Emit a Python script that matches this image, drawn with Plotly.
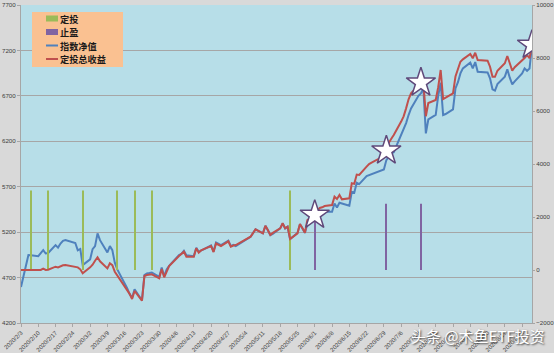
import plotly.graph_objects as go

dates = [
    "2020-02-03","2020-02-04","2020-02-05","2020-02-06","2020-02-07",
    "2020-02-10","2020-02-11","2020-02-12","2020-02-13","2020-02-14",
    "2020-02-17","2020-02-18","2020-02-19","2020-02-20","2020-02-21",
    "2020-02-24","2020-02-25","2020-02-26","2020-02-27","2020-02-28",
    "2020-03-02","2020-03-03","2020-03-04","2020-03-05","2020-03-06",
    "2020-03-09","2020-03-10","2020-03-11","2020-03-12","2020-03-13",
    "2020-03-16","2020-03-17","2020-03-18","2020-03-19","2020-03-20",
    "2020-03-23","2020-03-24","2020-03-25","2020-03-26","2020-03-27",
    "2020-03-30","2020-03-31","2020-04-01","2020-04-02","2020-04-03",
    "2020-04-07","2020-04-08","2020-04-09","2020-04-10",
    "2020-04-13","2020-04-14","2020-04-15","2020-04-16","2020-04-17",
    "2020-04-20","2020-04-21","2020-04-22","2020-04-23","2020-04-24",
    "2020-04-27","2020-04-28","2020-04-29","2020-04-30",
    "2020-05-06","2020-05-07","2020-05-08",
    "2020-05-11","2020-05-12","2020-05-13","2020-05-14","2020-05-15",
    "2020-05-18","2020-05-19","2020-05-20","2020-05-21","2020-05-22",
    "2020-05-25","2020-05-26","2020-05-27","2020-05-28","2020-05-29",
    "2020-06-01","2020-06-02","2020-06-03","2020-06-04","2020-06-05",
    "2020-06-08","2020-06-09","2020-06-10","2020-06-11","2020-06-12",
    "2020-06-15","2020-06-16","2020-06-17","2020-06-18","2020-06-19",
    "2020-06-22","2020-06-23","2020-06-24","2020-06-29","2020-06-30",
    "2020-07-01","2020-07-02","2020-07-03",
    "2020-07-06","2020-07-07","2020-07-08","2020-07-09","2020-07-10",
    "2020-07-13","2020-07-14","2020-07-15","2020-07-16","2020-07-17",
    "2020-07-20","2020-07-21","2020-07-22","2020-07-23","2020-07-24",
    "2020-07-27","2020-07-28","2020-07-29","2020-07-30","2020-07-31",
    "2020-08-03","2020-08-04","2020-08-05","2020-08-06","2020-08-07",
    "2020-08-10","2020-08-11","2020-08-12","2020-08-13","2020-08-14",
    "2020-08-17","2020-08-18","2020-08-19","2020-08-20","2020-08-21",
    "2020-08-24","2020-08-25","2020-08-26","2020-08-27","2020-08-28",
]

index_nav = [
    4596, 4720, 4850, 4947, 4945,
    4936, 4970, 5002, 4965, 4970,
    5057, 5030, 5075, 5105, 5112,
    5082, 5080, 5000, 5015, 4837,
    4900, 5013, 5046, 5186, 5112,
    4976, 5046, 5002, 4862, 4790,
    4639, 4583, 4518, 4477, 4572,
    4450, 4727, 4745, 4750, 4756,
    4708, 4811, 4715, 4789, 4830,
    4947, 4960, 4994, 4947,
    4936, 5027, 4983, 5000, 5010,
    5053, 4987, 5087, 5070, 5057,
    5105, 5046, 5060, 5046,
    5148, 5190, 5230,
    5186, 5270, 5220, 5167, 5180,
    5241, 5296, 5241, 5259, 5123,
    5190, 5288, 5240, 5192, 5290,
    5351, 5380, 5410, 5424, 5424,
    5424, 5516, 5472, 5523, 5516,
    5490, 5644, 5635, 5743, 5729,
    5817, 5828, 5840, 5890, 5993,
    6030, 6067, 6080,
    6270, 6330, 6400, 6489, 6562,
    6700, 6727, 6782, 6287, 6440,
    6490, 6700, 6844, 6489, 6500,
    6552, 6782, 6850, 6947, 7003,
    7065, 7003, 7072, 6966, 6966,
    6958, 6893, 6772, 6757, 6830,
    6911, 6992, 6900, 6827, 6860,
    6947, 7003, 6976, 7000, 7260,
]

total_profit = [
    0, 0, 0, 0, 0,
    0, 0, 50, 0, 10,
    125, 100, 150, 180, 190,
    130, 125, 100, 25, -125,
    100, 200, 350, 480, 330,
    60, 250, 180, -64, -200,
    -600, -750, -900, -1094, -790,
    -1158, -226, -190, -170, -162,
    -313, 38, -275, -26, 150,
    528, 620, 690, 500,
    500, 818, 653, 740, 790,
    906, 679, 1000, 950, 906,
    1083, 880, 925, 943,
    1255, 1400, 1535,
    1384, 1670, 1510, 1321, 1400,
    1573, 1762, 1573, 1635, 1170,
    1384, 1736, 1585, 1408, 1887,
    2075, 2226, 2340, 2366, 2415,
    2453, 2767, 2680, 2830, 2667,
    2705, 3272, 3250, 3600, 3585,
    3900, 4000, 4050, 4300, 4500,
    4800, 4950, 5094,
    5600, 5800, 6100, 6442, 6668,
    6950, 7068, 7100, 5800, 6300,
    6415, 6900, 7547, 6453, 6500,
    6668, 7300, 7600, 7860, 7950,
    8150, 7990, 8200, 7925, 7920,
    7898, 7672, 7295, 7290, 7520,
    7800, 8075, 7800, 7520, 7650,
    7898, 8000, 8113, 7990, 8490,
]

invest_dates = ["2020-02-07", "2020-02-14", "2020-02-28", "2020-03-13",
                "2020-03-20", "2020-03-27", "2020-05-22"]
invest_values = [3000, 3000, 3000, 3000, 3000, 3000, 3000]

stop_dates = ["2020-06-01", "2020-06-30", "2020-07-14"]
stop_values = [2500, 2500, 2500]

star_dates = ["2020-06-01", "2020-06-30", "2020-07-14", "2020-08-28"]
star_values = [total_profit[dates.index(d)] for d in star_dates]

legend_names = ["定投", "止盈", "指数净值", "定投总收益"]
legend_colors = ["#9BBB59", "#8064A2", "#4F81BD", "#C0504D"]
legend_kinds = ["box", "box", "line", "line"]

WEEK_MS = 7 * 24 * 3600 * 1000
BAR_W = 0.42 * 24 * 3600 * 1000

W, H = 554, 353
ML, MR, MT, MB = 21, 22, 5, 30
PW, PH = W - ML - MR, H - MT - MB


def px(xp):
    return (xp - ML) / PW


def py(yp):
    return 1 - (yp - MT) / PH


fig = go.Figure()
fig.add_trace(go.Bar(x=invest_dates, y=invest_values, name=legend_names[0], yaxis="y2",
                     width=BAR_W, marker=dict(color=legend_colors[0], line=dict(width=0))))
fig.add_trace(go.Bar(x=stop_dates, y=stop_values, name=legend_names[1], yaxis="y2",
                     width=BAR_W, marker=dict(color=legend_colors[1], line=dict(width=0))))
fig.add_trace(go.Scatter(x=dates, y=index_nav, name=legend_names[2], mode="lines",
                         line=dict(color=legend_colors[2], width=2)))
fig.add_trace(go.Scatter(x=dates, y=total_profit, name=legend_names[3], mode="lines", yaxis="y2",
                         line=dict(color=legend_colors[3], width=2)))
fig.add_trace(go.Scatter(x=star_dates, y=star_values, mode="markers", yaxis="y2",
                         showlegend=False,
                         marker=dict(symbol="star", size=22, color="white",
                                     line=dict(color="#5F497A", width=1.5))))

# legend drawn as a box with shapes and text annotations
shapes = [dict(type="rect", xref="paper", yref="paper",
               x0=px(32), x1=px(123), y0=py(67), y1=py(12),
               fillcolor="#FAC191", line=dict(width=0), layer="above")]
annotations = []
item_y = [18.5, 32, 45.5, 59]
for name, color, kind, yy in zip(legend_names, legend_colors, legend_kinds, item_y):
    if kind == "box":
        shapes.append(dict(type="rect", xref="paper", yref="paper",
                           x0=px(46), x1=px(58), y0=py(yy + 3), y1=py(yy - 3),
                           fillcolor=color, line=dict(width=0), layer="above"))
    else:
        shapes.append(dict(type="line", xref="paper", yref="paper",
                           x0=px(46), x1=px(58), y0=py(yy), y1=py(yy),
                           line=dict(color=color, width=2), layer="above"))
    annotations.append(dict(text=name, xref="paper", yref="paper",
                            x=px(59), y=py(yy), xanchor="left", yanchor="middle",
                            showarrow=False, borderpad=0,
                            font=dict(family="Noto Sans CJK SC", size=9.2,
                                      color="#1A1A1A", weight="bold")))

annotations.append(dict(text="头条 @木鱼ETF投资", xref="paper", yref="paper",
                        x=px(478), y=py(335), xanchor="center", yanchor="middle",
                        showarrow=False, borderpad=0,
                        font=dict(family="Noto Sans CJK SC", size=15, color="white",
                                  shadow="1px 1px 2px #333333")))

tickfont = dict(family="Liberation Sans, Arial", size=6.2, color="#404040")
fig.update_layout(
    width=W, height=H,
    margin=dict(l=ML, r=MR, t=MT, b=MB),
    paper_bgcolor="#D9D9D9",
    plot_bgcolor="#B7DEE8",
    barmode="overlay",
    showlegend=False,
    xaxis=dict(type="date", range=["2020-02-03", "2020-08-28"],
               tick0="2020-02-03", dtick=WEEK_MS, tickformat="%Y/%-m/%-d",
               tickangle=-45, tickfont=dict(family="Liberation Sans, Arial", size=6, color="#404040"),
               showgrid=False, showline=True, linecolor="#A6A6A6", linewidth=1,
               ticks="outside", ticklen=3, tickcolor="#A6A6A6", automargin=False),
    yaxis=dict(range=[4200, 7700], dtick=500, tick0=4200, tickfont=tickfont,
               showgrid=True, gridcolor="#A6A6A6", gridwidth=1, zeroline=False,
               showline=True, linecolor="#A6A6A6", linewidth=1,
               ticks="outside", ticklen=3, tickcolor="#A6A6A6", automargin=False),
    yaxis2=dict(range=[-2000, 10000], dtick=2000, tick0=-2000, tickfont=tickfont,
                tickformat="d", ticklabelstandoff=0,
                overlaying="y", side="right", showgrid=False, zeroline=False,
                showline=True, linecolor="#A6A6A6", linewidth=1,
                ticks="outside", ticklen=2, tickcolor="#A6A6A6", automargin=False),
    shapes=shapes,
    annotations=annotations,
)

fig.write_html("out.html")
